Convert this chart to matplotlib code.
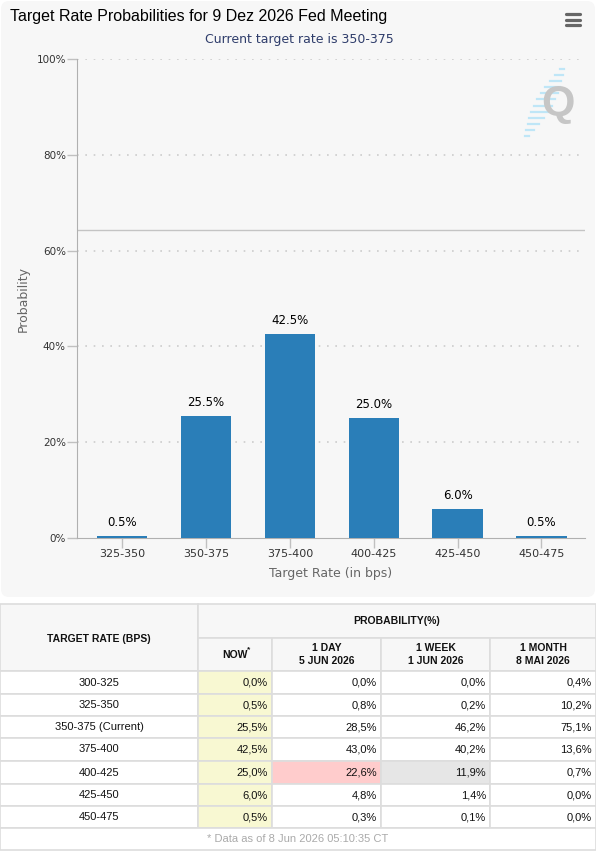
import numpy as np
import matplotlib
matplotlib.use("Agg")
from matplotlib import pyplot as plt
from matplotlib.patches import Rectangle, FancyBboxPatch

# Chart data
categories = ['325-350', '350-375', '375-400', '400-425', '425-450', '450-475']
probs = [0.5, 25.5, 42.5, 25.0, 6.0, 0.5]
y_ticks = [0, 20, 40, 60, 80, 100]

# Table data
rate_labels = ['300-325', '325-350', '350-375 (Current)', '375-400', '400-425', '425-450', '450-475']
now_vals = [0.0, 0.5, 25.5, 42.5, 25.0, 6.0, 0.5]
day_vals = [0.0, 0.8, 28.5, 43.0, 22.6, 4.8, 0.3]
week_vals = [0.0, 0.2, 46.2, 40.2, 11.9, 1.4, 0.1]
month_vals = [0.4, 10.2, 75.1, 13.6, 0.7, 0.0, 0.0]
col_headers = ['NOW', '1 DAY\n5 JUN 2026', '1 WEEK\n1 JUN 2026', '1 MONTH\n8 MAI 2026']
footnote = '* Data as of 8 Jun 2026 05:10:35 CT'

W, H = 596, 851
fig = plt.figure(figsize=(W / 100, H / 100), dpi=100)
fig.patch.set_facecolor('white')

# pixel-space overlay for backgrounds, table and decorations
bg = fig.add_axes([0, 0, 1, 1], zorder=0)
bg.set_xlim(0, W)
bg.set_ylim(H, 0)
bg.axis('off')
bg.add_patch(FancyBboxPatch((1, 1), W - 2, 596, boxstyle='round,pad=0,rounding_size=8',
                            facecolor='#f7f7f7', edgecolor='none'))

# Bar chart
ax = fig.add_axes([77 / W, (H - 538) / H, 508 / W, 479 / H], zorder=1)
ax.patch.set_alpha(0)
x = np.arange(len(categories))
bars = ax.bar(x, probs, width=0.6, color='#2a7eb8', zorder=3)
for xi, p in zip(x, probs):
    ax.annotate(f'{p:.1f}%', (xi, p), xytext=(0, 5), textcoords='offset points',
                ha='center', va='bottom', fontsize=8.5, color='black', family='DejaVu Sans')

ax.set_xlim(-0.54, 5.52)
ax.set_ylim(0, 100)
ax.set_xticks(x)
ax.set_xticklabels(categories, fontsize=8, color='#333333')
ax.set_yticks(y_ticks)
ax.set_yticklabels([f'{t}%' for t in y_ticks], fontsize=7.5, color='#333333')
ax.tick_params(axis='y', length=7, color='#c0c0c0', width=1, pad=1)
ax.tick_params(axis='x', length=7, color='#c0c0c0', width=1, pad=1)
for t in y_ticks[1:]:
    ax.axhline(t, color='#cccccc', lw=1.2, ls=(0, (1, 4)), zorder=1)
ax.axhline(64.3, color='#c4c4c4', lw=1, zorder=2)
for side in ['top', 'right']:
    ax.spines[side].set_visible(False)
ax.spines['left'].set_color('#b0b0b0')
ax.spines['bottom'].set_color('#b0b0b0')
ax.set_xlabel('Target Rate (in bps)', fontsize=9, color='#666666', labelpad=5.5)
ax.set_ylabel('Probability', fontsize=9, color='#666666')
ax.yaxis.set_label_coords(-47 / 508, 0.5)

fig.text(10 / W, 1 - 17 / H, 'Target Rate Probabilities for 9 Dez 2026 Fed Meeting',
         family='Liberation Sans', fontsize=11.5, color='black', va='center', ha='left')
fig.text(299 / W, 1 - 40 / H, 'Current target rate is 350-375', fontsize=9,
         color='#2f3d6b', va='center', ha='center')

# menu icon
for yy in [14, 19.5, 25]:
    bg.plot([566, 580], [yy, yy], color='#666666', lw=2.3, solid_capstyle='round')

# watermark logo
bg.text(558, 104, 'Q', family='Liberation Sans', fontweight='bold', fontsize=31,
        color='#c6c6c6', ha='center', va='center', zorder=2)
for k, yy in enumerate(np.linspace(69, 136, 12)):
    cx = 562 - (yy - 69) * 0.52
    half = 2 + 7 * np.sin(np.pi * k / 11)
    bg.plot([cx - half, cx + half], [yy, yy], color='#bfe6f7', lw=1.6, zorder=1)

# Table
col_x = [0, 198, 272, 381, 490, 596]
row_y = [604, 638, 671, 694, 716, 738, 761, 784, 806, 828, 850]
border = '#dddddd'

def cell(x0, y0, x1, y1, fc):
    bg.add_patch(Rectangle((x0, y0), x1 - x0, y1 - y0, facecolor=fc, edgecolor=border, lw=1.2))

cell(col_x[0], row_y[0], col_x[1], row_y[2], '#f7f7f7')
cell(col_x[1], row_y[0], col_x[5], row_y[1], '#f7f7f7')
for c in range(4):
    cell(col_x[c + 1], row_y[1], col_x[c + 2], row_y[2], '#f7f7f7')

hfont = dict(family='Liberation Sans', fontweight='bold', fontsize=7.5, color='#111111',
             ha='center', va='center', linespacing=1.3)
bg.text((col_x[0] + col_x[1]) / 2, (row_y[0] + row_y[2]) / 2 + 1.5, 'TARGET RATE (BPS)', **hfont)
bg.text((col_x[1] + col_x[5]) / 2, (row_y[0] + row_y[1]) / 2, 'PROBABILITY(%)', **hfont)
for c, h in enumerate(col_headers):
    bg.text((col_x[c + 1] + col_x[c + 2]) / 2, (row_y[1] + row_y[2]) / 2, h, **hfont)
bg.text((col_x[1] + col_x[2]) / 2 + 14, (row_y[1] + row_y[2]) / 2 - 5, '*',
        family='Liberation Sans', fontweight='bold', fontsize=6, color='#111111',
        ha='center', va='center')

highlight = {(4, 1): '#ffcccc', (4, 2): '#e6e6e6'}
columns = [now_vals, day_vals, week_vals, month_vals]
dfont = dict(family='Liberation Sans', fontsize=8, color='#111111', va='center')
for r, label in enumerate(rate_labels):
    y0, y1 = row_y[r + 2], row_y[r + 3]
    ym = (y0 + y1) / 2
    cell(col_x[0], y0, col_x[1], y1, 'white')
    bg.text((col_x[0] + col_x[1]) / 2, ym, label, ha='center', **dfont)
    for c, vals in enumerate(columns):
        fc = '#f8f8d2' if c == 0 else highlight.get((r, c), 'white')
        cell(col_x[c + 1], y0, col_x[c + 2], y1, fc)
        txt = f'{vals[r]:.1f}%'.replace('.', ',')
        bg.text(col_x[c + 2] - 4, ym, txt, ha='right', **dfont)

cell(col_x[0], row_y[9], col_x[5], row_y[10], 'white')
bg.text(W / 2, (row_y[9] + row_y[10]) / 2, footnote, family='Liberation Sans',
        fontsize=8, color='#aaaaaa', ha='center', va='center')

fig.savefig('out.png', dpi=100)
